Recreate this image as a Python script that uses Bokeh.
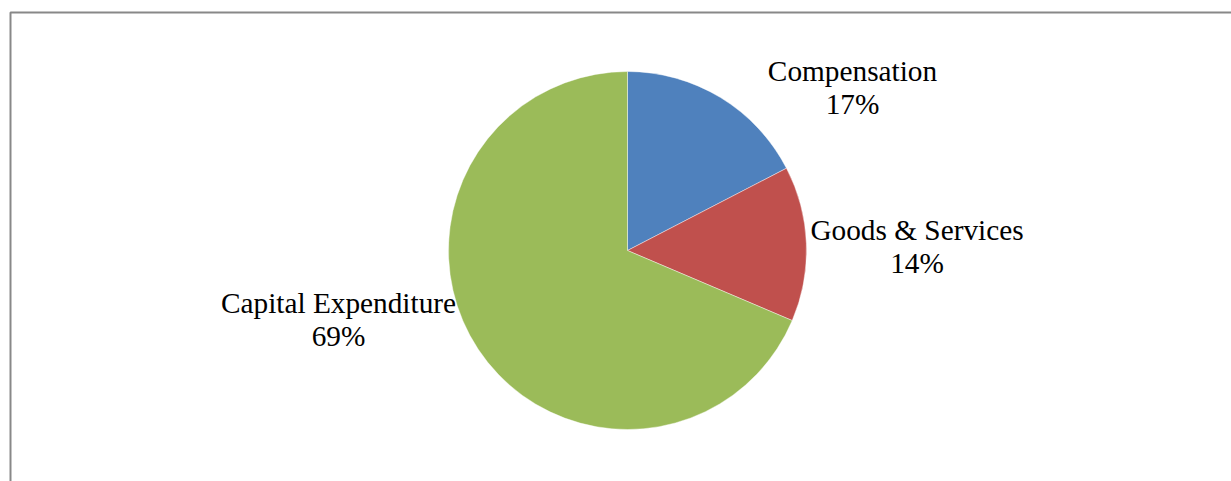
import math
from bokeh.plotting import figure
from bokeh.models import Range1d, ColumnDataSource
from bokeh.core.properties import value
from bokeh.embed import file_html
from bokeh.resources import INLINE

# ---- data ----
categories = ["Compensation", "Goods & Services", "Capital Expenditure"]
shares = [17.4, 14.0, 68.6]
colors = ["#4F81BD", "#C0504D", "#9BBB59"]

# ---- layout (pixels) ----
W, H = 1231, 481
cx, cy, r = 627, 231, 179
label_anchor = [(852, 410.5), (916.5, 252), (338, 178.5)]
line_gap = 33
font = value("Liberation Serif")
fsize = "29.3px"

total = sum(shares)
starts, ends = [], []
acc = 0.0
for s in shares:
    starts.append(math.pi / 2 - 2 * math.pi * acc / total)
    acc += s
    ends.append(math.pi / 2 - 2 * math.pi * acc / total)

src = ColumnDataSource(dict(x=[cx] * 3, y=[cy] * 3, start=starts, end=ends,
                            color=colors, cat=categories))

p = figure(width=W, height=H, x_range=Range1d(0, W), y_range=Range1d(0, H),
           output_backend="svg", toolbar_location=None, min_border=0,
           x_axis_type=None, y_axis_type=None)
p.grid.visible = False
p.outline_line_color = None
p.background_fill_color = "white"
p.border_fill_color = "white"

# chart border (left & top visible in view)
p.quad(left=[10], right=[W + 80], bottom=[-80], top=[469], fill_color=None,
       line_color="#888888", line_width=2)

p.wedge(x="x", y="y", radius=r, start_angle="start", end_angle="end",
        direction="clock", fill_color="color", line_color="white",
        line_width=0.6, line_alpha=0.7, source=src)

pct = [f"{round(s / total * 100)}%" for s in shares]
lx = [a[0] for a in label_anchor]
ly1 = [a[1] for a in label_anchor]
ly2 = [a[1] - line_gap for a in label_anchor]
p.text(x=lx, y=ly1, text=categories, text_font=font, text_font_size=fsize,
       text_align="center", text_baseline="alphabetic", text_color="black")
p.text(x=lx, y=ly2, text=pct, text_font=font, text_font_size=fsize,
       text_align="center", text_baseline="alphabetic", text_color="black")

open("out.html", "w").write(file_html(p, INLINE))
